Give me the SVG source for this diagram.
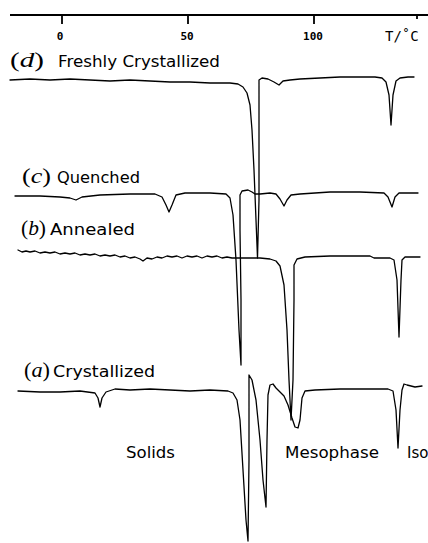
<svg xmlns="http://www.w3.org/2000/svg" width="428" height="543" viewBox="0 0 428 543">
<style>
.tr{fill:none;stroke:#000;stroke-width:1.3;stroke-linejoin:round;stroke-linecap:round}
.ax{fill:none;stroke:#000;stroke-width:1.8}
.tk{fill:#000;font-family:"DejaVu Sans Mono","Liberation Mono",monospace;font-size:11px;font-weight:bold}
.lb{fill:#000;font-family:"DejaVu Sans","Liberation Sans",sans-serif;font-size:15px}
.it{fill:#000;font-family:"Liberation Serif","DejaVu Serif",serif;font-size:20px}
</style>
<rect width="428" height="543" fill="#fff"/>
<g id="axis">
<path class="ax" d="M10,15 L428,15"/>
<path class="ax" d="M62,15V24 M188,15V24 M314,15V24 M417,15V19"/>
<text class="tk" x="60" y="40" text-anchor="middle">0</text>
<text class="tk" x="187" y="40" text-anchor="middle">50</text>
<text class="tk" x="313" y="40" text-anchor="middle">100</text>
<text class="tk" x="385" y="41" style="font-size:14px;font-weight:normal">T/˚C</text>
</g>
<g id="traces">
<polyline id="trace-d" class="tr" points="10,80 30,79 50,80 70,79 90,80 110,81 130,80 150,81 170,82 190,82 210,83 230,83 238,84 243,87 247,93 250,105 252,130 254,170 256,220 257.5,258 259,200 259,80 262,78 268,79 274,82 279,85 283,81 290,80 300,79 320,78 340,77 360,77 375,77 382,78 386,82 389,95 391,125 393,95 396,81 400,78 408,77 414,77"/>
<polyline id="trace-c" class="tr" points="15,196 40,196 60,197 70,198 76,200 82,197 100,195 130,194 155,194 162,197 166,205 169,212 172,205 176,195 185,193 210,193 226,194 230,198 233,215 236,260 239,330 241,365 241,300 240,230 240,195 242,191 248,190 252,192 255,194 260,194 270,193 276,194 280,199 284,206 287,200 291,195 300,194 330,192 360,192 384,193 388,197 392,207 395,197 399,193 410,193 418,193"/>
<polyline id="trace-b" class="tr" points="18,250 22,252 26,251 30,252 35,251 40,253 45,252 50,253 55,252 60,254 65,253 70,254 75,253 80,255 85,254 90,255 95,254 100,256 105,255 110,256 115,255 120,257 125,256 130,258 135,257 140,259 143,261 147,258 152,259 157,257 162,258 167,256 172,257 177,256 182,258 187,256 192,257 197,256 202,258 207,256 212,257 217,256 222,258 227,257 232,258 240,258 250,258 260,258 270,259 276,261 280,266 284,285 287,330 289,380 291,420 293,380 294,300 294,265 297,259 305,257 330,256 360,256 370,256 374,258 390,258 394,260 397,280 399,337 401,280 402,260 405,257 412,257 420,257"/>
<polyline id="trace-a" class="tr" points="18,391 40,392 60,392 80,391 95,393 98,398 100,407 102,398 106,392 115,389 130,390 150,389 170,390 190,391 210,390 228,391 233,393 237,400 240,420 243,470 246,520 248,541 249,460 249,375 252,380 256,400 260,440 263,480 266,507 267,440 268,395 270,385 273,384 276,388 280,392 284,396 288,405 292,418 295,427 298,428 300,420 302,398 305,391 315,390 340,389 365,389 388,389 393,391 396,410 398,448 400,410 402,390 404,384 407,385 415,387 422,386"/>
</g>
<g id="labels">
<text class="it" x="10" y="67" textLength="34" lengthAdjust="spacingAndGlyphs">(<tspan font-style="italic">d</tspan>)</text>
<text class="lb" x="58" y="67" textLength="162" lengthAdjust="spacingAndGlyphs">Freshly Crystallized</text>
<text class="it" x="22" y="183" textLength="29" lengthAdjust="spacingAndGlyphs">(<tspan font-style="italic">c</tspan>)</text>
<text class="lb" x="57" y="183" textLength="83" lengthAdjust="spacingAndGlyphs">Quenched</text>
<text class="it" x="21" y="235" textLength="25" lengthAdjust="spacingAndGlyphs">(<tspan font-style="italic">b</tspan>)</text>
<text class="lb" x="50" y="235" textLength="85" lengthAdjust="spacingAndGlyphs">Annealed</text>
<text class="it" x="24" y="377" textLength="26" lengthAdjust="spacingAndGlyphs">(<tspan font-style="italic">a</tspan>)</text>
<text class="lb" x="53" y="377" textLength="102" lengthAdjust="spacingAndGlyphs">Crystallized</text>
<text class="lb" x="126" y="458" textLength="49" lengthAdjust="spacingAndGlyphs">Solids</text>
<text class="lb" x="285" y="458" textLength="94" lengthAdjust="spacingAndGlyphs">Mesophase</text>
<text class="lb" x="407" y="458">Iso</text>
</g>
</svg>
